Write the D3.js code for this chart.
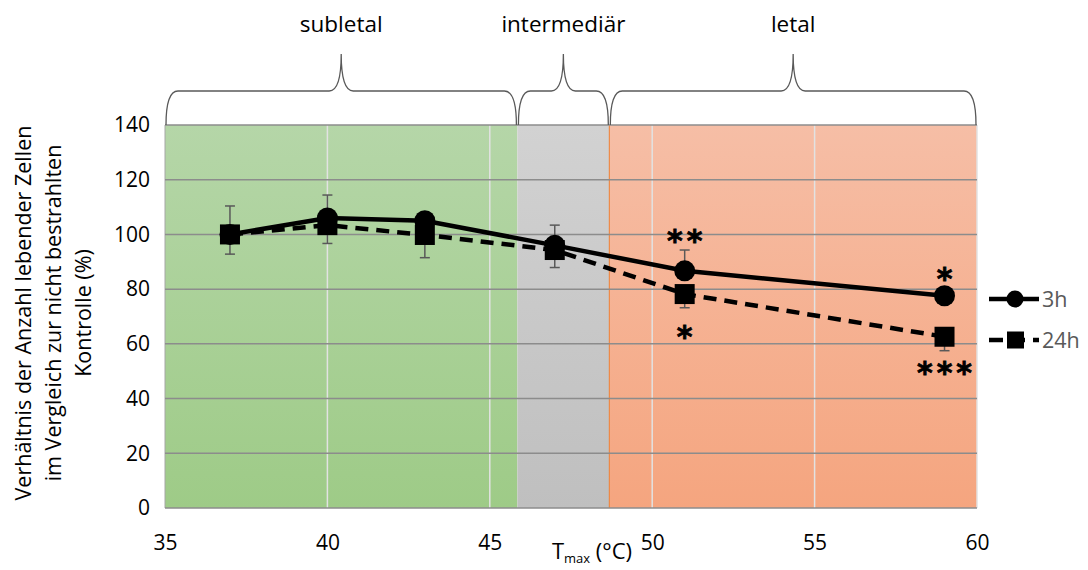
<!DOCTYPE html>
<html>
<head>
<meta charset="utf-8">
<script src="https://cdn.jsdelivr.net/npm/d3@7"></script>
<style>
body{margin:0;background:#fff;}
text{font-family:"Open Sans",sans-serif;}
</style>
</head>
<body>
<svg id="chart" width="1088" height="570"></svg>
<script>
// data
var temps=[37,40,43,47,51,59];
var series3h=[100,106,105,96,86.7,77.6];
var series24h=[100,103.4,99.8,94.3,78.2,62.6];
// 3h bars point up, 24h bars point down (as in the original)
var err3h=[10.4,8.4,2.5,7.4,7.6,1];
var err24h=[7.2,6.7,8.3,6.4,5,5.1];
var yTicks=[0,20,40,60,80,100,120,140];
var xTicks=[35,40,45,50,55,60];
// zones
var zoneNames=["subletal","intermediär","letal"];
var zoneStart=[35,45.85,48.68];
var zoneEnd=[45.85,48.68,60];
// significance marks
var starText=["**","*","*","***"];
var starX=[51,51,59,59];
var starY=[93.8,58.9,80.2,45.6];

var svg=d3.select("#chart");
var margin={top:125,left:165,right:111,bottom:62};
var width=1088-margin.left-margin.right,
    height=570-margin.top-margin.bottom;

var x=d3.scaleLinear().domain([35,60]).range([0,width]);
var y=d3.scaleLinear().domain([0,140]).range([height,0]);

var defs=svg.append("defs");
var grads=[["gGreen","#b5d6a8","#9ecb87"],["gGray","#d2d2d2","#bfbfbf"],["gRed","#f6bea6","#f5a57f"]];
grads.forEach(function(g){
  var lg=defs.append("linearGradient").attr("id",g[0]).attr("x1",0).attr("y1",0).attr("x2",0).attr("y2",1);
  lg.append("stop").attr("offset","0%").attr("stop-color",g[1]);
  lg.append("stop").attr("offset","100%").attr("stop-color",g[2]);
});

var chart=svg.append("g").attr("transform","translate("+margin.left+","+margin.top+")");

// colored zones
chart.selectAll(".zone").data(zoneNames).enter().append("rect")
  .attr("class","zone")
  .attr("x",function(d,i){return x(zoneStart[i]);})
  .attr("width",function(d,i){return x(zoneEnd[i])-x(zoneStart[i]);})
  .attr("y",0).attr("height",height)
  .attr("fill",function(d,i){return "url(#"+grads[i][0]+")";});
chart.append("line").attr("x1",x(zoneStart[2])).attr("x2",x(zoneStart[2]))
  .attr("y1",0).attr("y2",height).attr("stroke","#ed7d31").attr("stroke-width",1);

// vertical gridlines
chart.selectAll(".vgrid").data(xTicks.slice(1)).enter().append("line")
  .attr("x1",function(d){return x(d);}).attr("x2",function(d){return x(d);})
  .attr("y1",0).attr("y2",height)
  .attr("stroke","#e2e2e2").attr("stroke-width",1.5);
chart.append("line").attr("x1",0).attr("x2",0).attr("y1",0).attr("y2",height)
  .attr("stroke","#a6a6a6").attr("stroke-width",1);

// horizontal gridlines
chart.selectAll(".hgrid").data(yTicks).enter().append("line")
  .attr("x1",0).attr("x2",width)
  .attr("y1",function(d){return y(d);}).attr("y2",function(d){return y(d);})
  .attr("stroke","#8c8c8c").attr("stroke-width",1.5);

// axes (labels only)
var yAxis=d3.axisLeft(y).tickValues(yTicks).tickSize(0).tickPadding(15);
var xAxis=d3.axisBottom(x).tickValues(xTicks).tickSize(0).tickPadding(27);
var ya=chart.append("g").call(yAxis);
var xa=chart.append("g").attr("transform","translate(0,"+height+")").call(xAxis);
[ya,xa].forEach(function(a){
  a.select(".domain").remove();
  a.selectAll("text").style("font-size","21px").attr("fill","#000").style("font-family","'Open Sans',sans-serif");
});

// error bars, dir -1 = up, +1 = down
function errBars(vals,errs,dir){
  var g=chart.append("g");
  temps.forEach(function(t,i){
    var cx=x(t),y0=y(vals[i]),y1=y(vals[i]-dir*errs[i]);
    g.append("line").attr("x1",cx).attr("x2",cx).attr("y1",y0).attr("y2",y1);
    g.append("line").attr("x1",cx-5).attr("x2",cx+5).attr("y1",y1).attr("y2",y1);
  });
  g.selectAll("line").attr("stroke","#595959").attr("stroke-width",1.5);
}
errBars(series3h,err3h,-1);
errBars(series24h,err24h,1);

var line=d3.line().x(function(d){return x(d[0]);}).y(function(d){return y(d[1]);});
var pts24=temps.map(function(t,i){return [t,series24h[i]];});
var pts3=temps.map(function(t,i){return [t,series3h[i]];});

chart.append("path").datum(pts24).attr("d",line).attr("fill","none")
  .attr("stroke","#000").attr("stroke-width",4.5).attr("stroke-dasharray","13,8");
chart.append("path").datum(pts3).attr("d",line).attr("fill","none")
  .attr("stroke","#000").attr("stroke-width",4.5);

chart.selectAll(".circ").data(pts3).enter().append("circle")
  .attr("cx",function(d){return x(d[0]);}).attr("cy",function(d){return y(d[1]);})
  .attr("r",10.5).attr("fill","#000");
chart.selectAll(".sq").data(pts24).enter().append("rect")
  .attr("x",function(d){return x(d[0])-10;}).attr("y",function(d){return y(d[1])-10;})
  .attr("width",20).attr("height",20).attr("fill","#000");

// stars
chart.selectAll(".star").data(starText).enter().append("text")
  .attr("x",function(d,i){return x(starX[i])+2;})
  .attr("y",function(d,i){return y(starY[i]);})
  .attr("text-anchor","middle")
  .style("font-size","30px").style("font-weight","bold")
  .style("letter-spacing","4px")
  .style("font-family","'DejaVu Sans',sans-serif")
  .attr("fill","#000").attr("stroke","#000").attr("stroke-width",0.8)
  .text(function(d){return d;});

// braces above zones
function brace(x1,x2,yb,ym,yt){
  var xm=(x1+x2)/2,r=12;
  return "M"+x1+","+yb+" Q"+x1+","+ym+" "+(x1+r)+","+ym+
    " L"+(xm-r)+","+ym+" Q"+xm+","+ym+" "+xm+","+yt+
    " Q"+xm+","+ym+" "+(xm+r)+","+ym+
    " L"+(x2-r)+","+ym+" Q"+x2+","+ym+" "+x2+","+yb;
}
chart.selectAll(".brace").data(zoneNames).enter().append("path")
  .attr("d",function(d,i){return brace(x(zoneStart[i])+1,x(zoneEnd[i])-1,0,-34,-71);})
  .attr("fill","none").attr("stroke","#595959").attr("stroke-width",1.3);
chart.selectAll(".zlab").data(zoneNames).enter().append("text")
  .attr("x",function(d,i){return (x(zoneStart[i])+x(zoneEnd[i]))/2;})
  .attr("y",-93)
  .attr("text-anchor","middle").style("font-size","22.5px").attr("fill","#000")
  .text(function(d){return d;});

// axis titles
var yt=svg.append("text").attr("transform","translate(31,313) rotate(-90)")
  .attr("text-anchor","middle").style("font-size","21.5px").attr("fill","#000");
["Verhältnis der Anzahl lebender Zellen","im Vergleich zur nicht bestrahlten","Kontrolle (%)"].forEach(function(s,i){
  yt.append("tspan").attr("x",0).attr("dy",i==0?0:30).text(s);
});
var xt=svg.append("text").attr("x",592).attr("y",559).attr("text-anchor","middle")
  .style("font-size","22px").attr("fill","#000");
xt.append("tspan").text("T");
xt.append("tspan").attr("dy",4).style("font-size","13px").text("max");
xt.append("tspan").attr("dy",-4).text(" (°C)");

// legend
var legNames=["3h","24h"];
var leg=svg.selectAll(".leg").data(legNames).enter().append("g")
  .attr("transform",function(d,i){return "translate(989,"+(299+i*41)+")";});
leg.append("line").attr("x1",0).attr("x2",50).attr("y1",0).attr("y2",0)
  .attr("stroke","#000").attr("stroke-width",4.5)
  .attr("stroke-dasharray",function(d,i){return i==0?null:"14,8";});
leg.each(function(d,i){
  var g=d3.select(this);
  if(i==0) g.append("circle").attr("cx",26).attr("cy",0).attr("r",8.5).attr("fill","#000");
  else g.append("rect").attr("x",18).attr("y",-8.5).attr("width",17).attr("height",17).attr("fill","#000");
});
leg.append("text").attr("x",53).attr("y",7.5).style("font-size","21.5px").attr("fill","#595959")
  .text(function(d){return d;});
</script>
</body>
</html>
